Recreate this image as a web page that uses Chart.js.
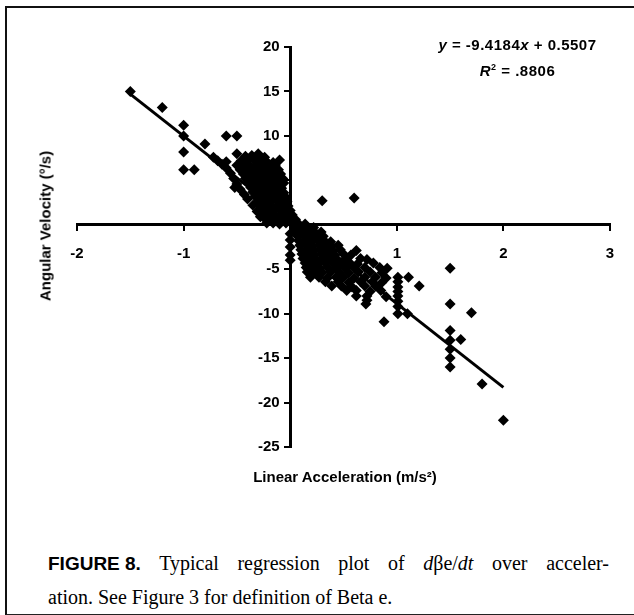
<!DOCTYPE html>
<html>
<head>
<meta charset="utf-8">
<script src="https://cdn.jsdelivr.net/npm/chart.js@4.4.1/dist/chart.umd.min.js"></script>
<style>
  body { margin: 0; background: #fff; }
  #page { position: relative; width: 634px; height: 615px; overflow: hidden; background: #fff; }
  #frame { position: absolute; left: 5px; top: 6px; width: 640px; height: 606px;
           border-top: 2px solid #111; border-left: 2px solid #111; border-bottom: 2px solid #222; }
  #wrap { position: absolute; left: 0; top: 0; width: 634px; height: 500px; }
  .lbl { position: absolute; font-family: "Liberation Sans", Arial, sans-serif; font-weight: bold;
         color: #000; white-space: nowrap; }
  #eq { left: 405px; top: 33px; width: 225px; text-align: center; font-size: 15px; line-height: 23px; letter-spacing: 0.5px; }
  #xtitle { left: 0; width: 690px; top: 468px; text-align: center; font-size: 15px; }
  #ytitle { left: 45px; top: 226px; font-size: 15px; transform: translate(-50%, -50%) rotate(-90deg); }
  .cap { position: absolute; left: 48px; width: 561px; font-family: "Liberation Serif", "Times New Roman", serif;
         font-size: 20px; line-height: 34px; color: #000; white-space: nowrap; }
  #cap1 { top: 546px; text-align: justify; text-align-last: justify; }
  #cap2 { top: 580px; }
  .cap b { display: inline-block; font-family: "Liberation Sans", Arial, sans-serif; font-size: 19px; }
</style>
</head>
<body>
<div id="page">
  <div id="frame"></div>
  <div id="wrap"><canvas id="chart"></canvas></div>
  <div id="eq" class="lbl"><i>y</i> = -9.4184<i>x</i> + 0.5507<br><i>R</i><sup style="font-size:9px">2</sup> = .8806</div>
  <div id="xtitle" class="lbl">Linear Acceleration (m/s²)</div>
  <div id="ytitle" class="lbl">Angular Velocity (°/s)</div>
  <div id="cap1" class="cap"><b>FIGURE&nbsp;8.</b> Typical regression plot of <i>d</i>βe/<i>dt</i> over acceler-</div>
  <div id="cap2" class="cap">ation. See Figure 3 for definition of Beta e.</div>
</div>
<script>
// [linear acceleration (m/s²), angular velocity (°/s)]

// scattered points away from the main cloud
var outliers = [
  [-1.5, 15], [-1.2, 13.2], [-1.0, 11.2], [-1.0, 10], [-1.0, 8.2], [-1.0, 6.2], [-0.9, 6.2],
  [-0.8, 9.1], [-0.6, 10], [-0.5, 10], [-0.5, 8], [-0.3, 8], [-0.1, 7.3], [0.3, 2.7], [0.6, 3],
  [-0.52, 4.2],
  [0.71, -8.9], [0.88, -10.9], [1.01, -10], [1.1, -10], [1.01, -9.2],
  [1.5, -4.9], [1.5, -8.9], [1.7, -9.9], [1.5, -11.9], [1.6, -12.9], [1.5, -13], [1.5, -14],
  [1.5, -15], [1.5, -16], [1.8, -17.9], [2.0, -22]
];

// dense cloud, negative acceleration side
var upperCloud = [
  [-0.72, 7.6], [-0.68, 7.2], [-0.64, 6.8], [-0.6, 6.4], [-0.6, 7.1], [-0.56, 5.8], [-0.53, 5.2],
  [-0.5, 4.6], [-0.47, 4.0], [-0.43, 3.4], [-0.4, 2.9], [-0.35, 2.2], [-0.31, 1.5], [-0.28, 0.9],
  [-0.42, 7.7], [-0.36, 7.8], [-0.3, 7.7], [-0.24, 7.6],
  [-0.46, 7.2], [-0.4, 7.2], [-0.34, 7.3], [-0.28, 7.2], [-0.22, 7.1], [-0.16, 7.0],
  [-0.5, 6.7], [-0.44, 6.7], [-0.38, 6.6], [-0.32, 6.7], [-0.26, 6.7], [-0.2, 6.6], [-0.14, 6.7],
  [-0.47, 6.2], [-0.41, 6.2], [-0.35, 6.1], [-0.29, 6.2], [-0.23, 6.2], [-0.17, 6.1], [-0.11, 6.2],
  [-0.44, 5.7], [-0.38, 5.7], [-0.32, 5.6], [-0.26, 5.7], [-0.2, 5.7], [-0.14, 5.6], [-0.09, 5.7],
  [-0.42, 5.2], [-0.36, 5.2], [-0.3, 5.1], [-0.24, 5.2], [-0.18, 5.2], [-0.12, 5.1], [-0.07, 5.2],
  [-0.4, 4.7], [-0.34, 4.7], [-0.28, 4.6], [-0.22, 4.7], [-0.16, 4.7], [-0.1, 4.6], [-0.06, 4.7],
  [-0.37, 4.2], [-0.31, 4.2], [-0.25, 4.1], [-0.19, 4.2], [-0.13, 4.2], [-0.08, 4.1],
  [-0.35, 3.7], [-0.29, 3.7], [-0.23, 3.6], [-0.17, 3.7], [-0.11, 3.7], [-0.06, 3.6],
  [-0.33, 3.2], [-0.27, 3.2], [-0.21, 3.1], [-0.15, 3.2], [-0.09, 3.2], [-0.04, 3.1],
  [-0.3, 2.7], [-0.24, 2.7], [-0.18, 2.6], [-0.12, 2.7], [-0.07, 2.7], [-0.03, 2.6],
  [-0.29, 2.2], [-0.23, 2.2], [-0.17, 2.1], [-0.11, 2.2], [-0.05, 2.2], [-0.02, 2.1],
  [-0.27, 1.7], [-0.21, 1.7], [-0.15, 1.6], [-0.09, 1.7], [-0.04, 1.7], [0, 1.6],
  [-0.26, 1.2], [-0.2, 1.2], [-0.14, 1.1], [-0.08, 1.2], [-0.03, 1.2], [0.02, 1.1],
  [-0.24, 0.7], [-0.18, 0.7], [-0.12, 0.6], [-0.06, 0.7], [0, 0.7], [0.05, 0.6],
  [-0.22, 0.2], [-0.16, 0.2], [-0.1, 0.1], [-0.04, 0.2], [0.02, 0.2], [0.08, 0.1], [0.14, 0.1]
];

// dense cloud, positive acceleration side
var lowerCloud = [
  [0, -1], [0, -1.7], [0, -2.5], [0, -3.4], [0, -4],
  [0.04, -0.3], [0.1, -0.3], [0.16, -0.4], [0.22, -0.3],
  [0.05, -0.8], [0.11, -0.8], [0.17, -0.9], [0.23, -0.8], [0.29, -0.8],
  [0.07, -1.3], [0.13, -1.3], [0.19, -1.4], [0.25, -1.3], [0.31, -1.3],
  [0.08, -1.8], [0.14, -1.8], [0.2, -1.9], [0.26, -1.8], [0.32, -1.8], [0.38, -1.9],
  [0.09, -2.3], [0.15, -2.3], [0.21, -2.4], [0.27, -2.3], [0.33, -2.3], [0.39, -2.4], [0.45, -2.3],
  [0.1, -2.8], [0.16, -2.8], [0.22, -2.9], [0.28, -2.8], [0.34, -2.8], [0.4, -2.9], [0.47, -2.8], [0.62, -2.9],
  [0.11, -3.3], [0.17, -3.3], [0.23, -3.4], [0.29, -3.3], [0.35, -3.3], [0.42, -3.4], [0.5, -3.3], [0.57, -3.4],
  [0.12, -3.8], [0.18, -3.8], [0.24, -3.9], [0.3, -3.8], [0.37, -3.8], [0.44, -3.9], [0.52, -3.8], [0.66, -3.8], [0.72, -3.9],
  [0.14, -4.3], [0.2, -4.3], [0.26, -4.4], [0.33, -4.3], [0.4, -4.3], [0.48, -4.4], [0.56, -4.3], [0.63, -4.4], [0.78, -4.3],
  [0.15, -4.8], [0.21, -4.8], [0.28, -4.9], [0.35, -4.8], [0.43, -4.8], [0.52, -4.9], [0.6, -4.8], [0.7, -4.8], [0.84, -4.8], [0.91, -4.9],
  [0.16, -5.3], [0.23, -5.3], [0.3, -5.4], [0.38, -5.3], [0.46, -5.3], [0.55, -5.4], [0.64, -5.3], [0.75, -5.3], [0.86, -5.4],
  [0.19, -5.9], [0.27, -5.9], [0.35, -6.0], [0.43, -5.9], [0.5, -5.9], [0.6, -6.0], [0.7, -5.9], [0.8, -5.9], [0.9, -6.0], [1.01, -5.9], [1.11, -5.9],
  [0.33, -6.4], [0.45, -6.4], [0.55, -6.5], [0.66, -6.4], [0.77, -6.4], [0.86, -6.5], [1.01, -6.4],
  [0.39, -6.9], [0.48, -6.9], [0.58, -7.0], [0.7, -6.9], [0.8, -6.9], [1.01, -7.0], [1.21, -6.9],
  [0.53, -7.4], [0.62, -7.4], [0.75, -7.5], [0.85, -7.4], [1.01, -7.5],
  [0.62, -8.0], [0.72, -8.0], [0.9, -8.1], [1.01, -8.0],
  [0.72, -8.5], [1.01, -8.6]
];

// fitted line y = -9.4184x + 0.5507, ends as drawn
var trendX = [-1.5, 2.0];
var trendY = [14.7, -18.3];

function toPoints(list) { return list.map(function (p) { return {x: p[0], y: p[1]}; }); }
var points = toPoints(outliers.concat(upperCloud, lowerCloud));
var trend = trendX.map(function (x, i) { return {x: x, y: trendY[i]}; });

var tickFont = {family: '"Liberation Sans", Arial, sans-serif', weight: 'bold', size: 15};

new Chart(document.getElementById('chart'), {
  type: 'scatter',
  data: {
    datasets: [{
      data: points,
      pointStyle: 'rectRot',
      pointRadius: 5.5,
      backgroundColor: '#000',
      borderColor: '#000',
      borderWidth: 0
    }, {
      type: 'line',
      data: trend,
      borderColor: '#000',
      borderWidth: 3,
      pointRadius: 0,
      fill: false
    }]
  },
  options: {
    responsive: true,
    maintainAspectRatio: false,
    animation: false,
    layout: { padding: {left: 77, right: 24, top: 47, bottom: 53} },
    plugins: { legend: {display: false}, tooltip: {enabled: false} },
    scales: {
      x: {
        type: 'linear',
        position: {y: 0},
        min: -2, max: 3,
        border: {display: true, color: '#000', width: 3},
        grid: {drawOnChartArea: false, drawTicks: true, tickLength: 5, color: '#000', lineWidth: 2},
        ticks: {stepSize: 1, color: '#000', font: tickFont, padding: 15,
                callback: function (v) { return v === 0 ? '' : v; }}
      },
      y: {
        type: 'linear',
        position: {x: 0},
        min: -25, max: 20,
        border: {display: true, color: '#000', width: 3},
        grid: {drawOnChartArea: false, drawTicks: true, tickLength: 5, color: '#000', lineWidth: 2},
        ticks: {stepSize: 5, color: '#000', font: tickFont, padding: 6,
                // centre-placed axis draws labels flush to the line, so pad with spaces
                callback: function (v) { return v === 0 ? '' : v + '\u2002\u2009'; }}
      }
    }
  }
});
</script>
</body>
</html>
